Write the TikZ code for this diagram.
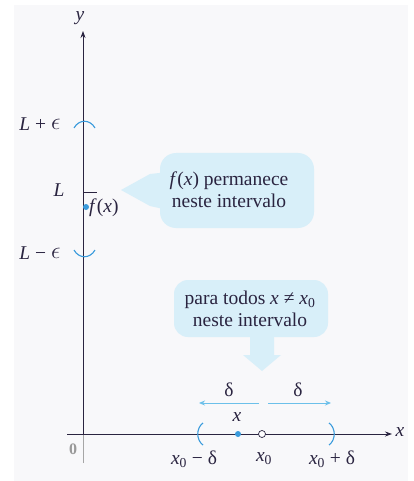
\documentclass[tikz,border=0pt]{standalone}
\usepackage{fontspec}
\setmainfont{Liberation Serif}
\usetikzlibrary{arrows.meta}
\definecolor{bluept}{HTML}{3A9BDC}
\definecolor{balloon}{HTML}{D8EFF9}
\definecolor{darrow}{HTML}{6CC0EA}
\definecolor{ink}{HTML}{2A2440}
\definecolor{paper}{HTML}{F8F8FA}
\newcommand{\xo}{\textit{x}\textsubscript{0}}
\newcommand{\eps}{\raisebox{0.1ex}{\scalebox{1.15}{$\epsilon$}}}
\begin{document}
\begin{tikzpicture}[x=1pt,y=-1pt,
  font=\fontsize{19.5}{22}\selectfont,
  lbl/.style={text=ink, inner sep=1pt},
  axisline/.style={draw=ink, line width=0.8pt},
  bracket/.style={draw=bluept, line width=1.1pt},
  deltaarrow/.style={draw=darrow, line width=0.9pt, -{Stealth[length=6pt,width=5pt]}},
  bubble/.style={fill=balloon}]
\useasboundingbox (0,0) rectangle (414,481);
\fill[white] (0,0) rectangle (414,481);
\fill[paper] (14,5) rectangle (408,481);

% balloons
\fill[bubble, rounded corners=16pt] (160,153) rectangle (314,228);
\fill[bubble] (168,172) -- (150,174) -- (121,190) -- (150,206) -- (168,210) -- cycle;
\fill[bubble, rounded corners=14pt] (174,280) rectangle (328,337);
\fill[bubble] (250,330) -- (250,355) -- (243,355) -- (262,371) -- (281,355) -- (274,355) -- (274,330) -- cycle;

\node[lbl, align=center] (t1) at (229,190) {\textit{f}(\textit{x}) permanece\\neste intervalo};
\node[lbl, align=center] (t2) at (250,309) {para todos \textit{x} ≠ \xo\\neste intervalo};

% axes
\coordinate (O) at (83,434);
\coordinate (ybot) at (83,463);
\coordinate (ytop) at (83,31);
\coordinate (xleft) at (67,434);
\coordinate (xright) at (392,434);
\draw[draw=gray!70, line width=0.8pt] (ybot) -- (O);
\draw[axisline, -{Stealth[length=7pt,width=5pt]}] (O) -- (ytop);
\draw[axisline, -{Stealth[length=7pt,width=5pt]}] (xleft) -- (xright);
\node[lbl] (ylab) at (80,18) {\textit{y}};
\node[lbl] (xlab) at (400,432) {\textit{x}};
\node[text=gray!80, font=\fontsize{16}{18}\selectfont\bfseries] (zero) at (73,449) {0};

% epsilon interval on y axis
\draw[bracket] (74,128) .. controls (79,119) and (90,119) .. (95,128);
\draw[bracket] (74,250) .. controls (79,259) and (90,259) .. (95,250);
\node[lbl] (lpe) at (40,124) {\textit{L} + \eps};
\node[lbl] (lme) at (40,253) {\textit{L} − \eps};
\node[lbl] (L) at (59,190) {\textit{L}};
\coordinate (Lt) at (83,192);
\coordinate (Lt2) at (97,192);
\draw[draw=ink, line width=0.9pt] (Lt) -- (Lt2);
\node[circle, fill=bluept, inner sep=0pt, minimum size=6pt] (fdot) at (86,207) {};
\node[lbl, anchor=west] (fx) at (88,208) {\textit{f}(\textit{x})};

% delta interval on x axis
\draw[bracket] (203,423) .. controls (196,428) and (196,440) .. (203,445);
\draw[bracket] (329,423) .. controls (336,428) and (336,440) .. (329,445);
\node[circle, fill=bluept, inner sep=0pt, minimum size=6pt] (xdot) at (238,434) {};
\node[circle, draw=ink, fill=white, line width=0.7pt, inner sep=0pt, minimum size=7pt] (x0dot) at (262,434) {};
\node[lbl] (xpt) at (237,417) {\textit{x}};
\node[lbl] (lm) at (194,459) {\xo\ − δ};
\node[lbl] (lc) at (264,459) {\xo};
\node[lbl] (lp) at (332,459) {\xo\ + δ};

\coordinate (da) at (259,403);
\coordinate (db) at (199,403);
\coordinate (dc) at (268,403);
\coordinate (dd) at (331,403);
\draw[deltaarrow] (da) -- (db);
\draw[deltaarrow] (dc) -- (dd);
\node[lbl] (d1) at (229,390) {δ};
\node[lbl] (d2) at (298,390) {δ};
\end{tikzpicture}
\end{document}
